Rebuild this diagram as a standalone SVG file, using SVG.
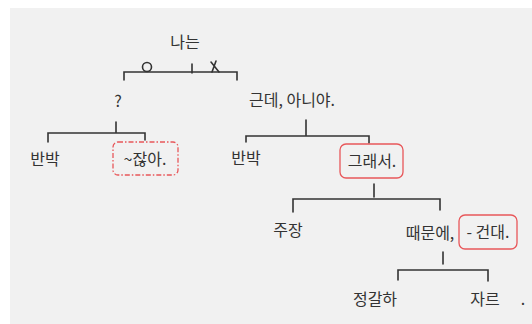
<svg xmlns="http://www.w3.org/2000/svg" width="532" height="324" viewBox="0 0 532 324">
<style>
.t{font-family:"Noto Sans CJK KR","Noto Sans",sans-serif;font-size:16px;fill:#333;text-anchor:middle}
.l{stroke:#333;stroke-width:1.6;fill:none;stroke-linecap:round}
.box{fill:none;stroke:#e8575a;stroke-width:1.3}
.dash{stroke-dasharray:5 2 1.5 2}
</style>
<rect width="532" height="324" fill="#ffffff"/>
<rect x="10" y="8" width="522" height="316" fill="#f1f1f1"/>
<g id="connectors">
<path class="l" d="M124 80 L124 72 L237 72 L237 80 M192 64 L192 73"/>
<circle class="l" cx="147" cy="67" r="4.5"/>
<path class="l" d="M211 62 L219 72 M216 61 L212 72"/>
<path class="l" d="M116 122 L116 132 M48 142 L48 133 L145 133 L145 140"/>
<path class="l" d="M306 120 L306 135 M246 142 L246 136 L369 136 L369 143"/>
<path class="l" d="M374 184 L374 197 M293 212 L293 199 L440 199 L440 210"/>
<path class="l" d="M443 252 L443 264 M398 280 L398 270 L488 270 L488 281"/>
</g>
<g id="root"><text class="t" x="185" y="48" font-size="20">나는</text></g>
<g id="q"><text class="t" x="118" y="107">?</text></g>
<g id="n-banbak1"><text class="t" x="45" y="165">반박</text></g>
<g id="n-janha"><rect class="box dash" x="113" y="142" width="65" height="33" rx="5"/><text class="t" x="145" y="165">~잖아.</text></g>
<g id="n-geunde"><text class="t" x="292" y="106">근데, 아니야.</text></g>
<g id="n-banbak2"><text class="t" x="246" y="164">반박</text></g>
<g id="n-geuraeseo"><rect class="box" x="340" y="144" width="63" height="34" rx="6"/><text class="t" x="372" y="167">그래서.</text></g>
<g id="n-jujang"><text class="t" x="288" y="236">주장</text></g>
<g id="n-ttaemune"><text class="t" x="430" y="239">때문에,</text></g>
<g id="n-geondae"><rect class="box" x="459" y="215" width="58" height="34" rx="6"/><text class="t" x="488" y="238">- 건대.</text></g>
<g id="n-jeong"><text class="t" x="375" y="305">정갈하</text></g>
<g id="n-jareu"><text class="t" x="485" y="305">자르</text><text class="t" x="523" y="305">.</text></g>
</svg>
